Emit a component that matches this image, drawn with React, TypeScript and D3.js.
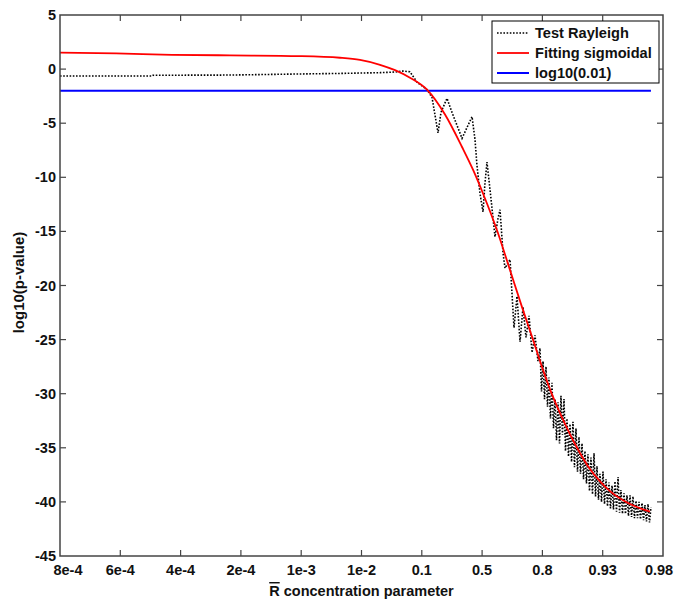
import React from "react";
import * as d3 from "d3";

const xTickLabels = ["8e-4", "6e-4", "4e-4", "2e-4", "1e-3", "1e-2", "0.1", "0.5", "0.8", "0.93", "0.98"];
const yTicks = [5, 0, -5, -10, -15, -20, -25, -30, -35, -40, -45];

// Fitting sigmoidal (x in tick-index units)
const fitX = [0, 0.929, 1.857, 2.819, 3.98, 4.643, 4.975, 5.307, 5.556, 5.804, 6.086, 6.385, 6.667, 6.849, 7.015, 7.247, 7.43, 7.662, 7.844, 8.01, 8.126, 8.342, 8.574, 8.756, 8.955, 9.121, 9.453, 9.784];
const fitY = [1.52, 1.45, 1.32, 1.27, 1.2, 1.05, 0.85, 0.4, -0.1, -0.8, -1.9, -4.2, -7.2, -9.3, -11.5, -14.9, -18.0, -22.0, -25.0, -27.8, -29.6, -32.4, -35.0, -36.7, -38.1, -39.0, -40.2, -40.9];

// Test Rayleigh
const rayX = [0, 1.526, 1.542, 2.819, 3.98, 4.643, 5.307, 5.556, 5.688, 5.804, 5.92, 6.086, 6.169, 6.269, 6.318, 6.418, 6.501, 6.667, 6.766, 6.833, 6.882, 6.915, 6.965, 7.015, 7.048, 7.081, 7.148, 7.214, 7.264, 7.297, 7.347, 7.38, 7.463, 7.529, 7.579, 7.629, 7.678, 7.728, 7.778, 7.828, 7.877, 7.927,
  7.96, 7.985, 8.01, 8.035, 8.06, 8.085, 8.109, 8.134, 8.159, 8.184, 8.209, 8.234, 8.259, 8.284, 8.308, 8.333, 8.358, 8.383, 8.408, 8.433, 8.458, 8.483, 8.507, 8.532, 8.557, 8.582, 8.607, 8.632, 8.657, 8.682, 8.706, 8.731, 8.756, 8.781, 8.806, 8.831, 8.856, 8.881, 8.905, 8.93, 8.955, 8.98, 9.005, 9.03, 9.055, 9.08, 9.104, 9.129, 9.154, 9.179, 9.204, 9.229, 9.254, 9.279, 9.303, 9.328, 9.353, 9.378, 9.403, 9.428, 9.453, 9.478, 9.502, 9.527, 9.552, 9.577, 9.602, 9.627, 9.652, 9.677, 9.701, 9.726, 9.751, 9.776, 9.801];
const rayY = [-0.64, -0.64, -0.57, -0.55, -0.45, -0.4, -0.33, -0.27, -0.18, -0.25, -1.2, -1.9, -2.6, -5.9, -4.0, -2.7, -4.0, -6.4, -5.2, -4.4, -6.5, -8.9, -11.5, -13.2, -10.5, -8.6, -12.0, -15.5, -13.8, -13.0, -17.0, -18.4, -17.6, -23.9, -21.0, -25.2, -22.0, -24.8, -22.8, -26.2, -24.6, -27.0,
  -25.8, -29.8, -27.0, -30.5, -27.5, -31.2, -28.5, -32.3, -29.0, -33.2, -30.5, -34.3, -30.8, -34.6, -30.2, -33.8, -30.5, -35.3, -32.3, -35.8, -32.8, -36.3, -32.6, -36.8, -33.2, -37.2, -34.0, -37.4, -34.6, -37.9, -35.3, -38.3, -35.6, -39.0, -35.9, -39.3, -35.5, -39.5, -36.7, -39.8, -37.4, -40.0, -37.2, -40.2, -37.9, -40.4, -38.2, -40.6, -38.5, -40.7, -38.1, -40.9, -37.7, -41.0, -38.9, -41.1, -39.2, -41.1, -39.4, -41.3, -39.4, -41.4, -39.5, -41.5, -39.9, -41.5, -40.0, -41.6, -40.1, -41.7, -40.3, -41.8, -40.2, -41.9, -40.5];

const threshold = Math.log10(0.01);
const thresholdExtent = [0, 9.8];

const legendItems = [
  { label: "Test Rayleigh", color: "#000", dash: "1.6,1.6", w: 1.6 },
  { label: "Fitting sigmoidal", color: "#ff0000", dash: "", w: 1.8 },
  { label: "log10(0.01)", color: "#0000ff", dash: "", w: 2 },
];

export default function App() {
  const W = 688, H = 600;
  const left = 60, right = 663, top = 15, bottom = 556;
  const x = d3.scaleLinear().domain([0, 10]).range([left, right]);
  const y = d3.scaleLinear().domain([-45, 5]).range([bottom, top]);
  const font = "'Liberation Sans', Arial, sans-serif";
  const axisColor = "#444";

  const fitLine = d3.line<number>().x((_, i) => x(fitX[i])).y((d) => y(d)).curve(d3.curveMonotoneX);
  const rayLine = d3.line<number>().x((_, i) => x(rayX[i])).y((d) => y(d));

  return (
    <svg width={W} height={H} style={{ position: "absolute", left: 0, top: 0, background: "#fff" }} fontFamily={font}>
      <rect x={0} y={0} width={W} height={H} fill="#fff" />
      <line x1={x(thresholdExtent[0])} x2={x(thresholdExtent[1])} y1={y(threshold)} y2={y(threshold)} stroke="#0000ff" strokeWidth={2} />
      <path d={rayLine(rayY) || ""} fill="none" stroke="#000" strokeWidth={1.6} strokeDasharray="1.6,1.6" />
      <path d={fitLine(fitY) || ""} fill="none" stroke="#ff0000" strokeWidth={1.8} />

      <rect x={left} y={top} width={right - left} height={bottom - top} fill="none" stroke={axisColor} strokeWidth={1.5} />
      {xTickLabels.map((t, i) => (
        <g key={t}>
          {i > 0 && i < 10 && (
            <>
              <line x1={x(i)} x2={x(i)} y1={bottom} y2={bottom - 6} stroke={axisColor} strokeWidth={1.2} />
              <line x1={x(i)} x2={x(i)} y1={top} y2={top + 6} stroke={axisColor} strokeWidth={1.2} />
            </>
          )}
          <text
            x={i === 0 ? x(i) + 8 : i === 10 ? x(i) - 4 : x(i)}
            y={bottom + 19}
            textAnchor="middle"
            fontSize={14.5}
            fontWeight="bold"
            fill="#111"
          >
            {t}
          </text>
        </g>
      ))}
      {yTicks.map((t) => (
        <g key={t}>
          {t !== 5 && t !== -45 && (
            <>
              <line x1={left} x2={left + 6} y1={y(t)} y2={y(t)} stroke={axisColor} strokeWidth={1.2} />
              <line x1={right} x2={right - 6} y1={y(t)} y2={y(t)} stroke={axisColor} strokeWidth={1.2} />
            </>
          )}
          <text x={left - 4} y={y(t)} dy="0.35em" textAnchor="end" fontSize={14.5} fontWeight="bold" fill="#111">
            {t}
          </text>
        </g>
      ))}

      <text x={(left + right) / 2} y={596} textAnchor="middle" fontSize={14.5} fontWeight="bold" fill="#111">
        <tspan style={{ textDecoration: "overline" }}>R</tspan>
        <tspan> concentration parameter</tspan>
      </text>
      <text transform={`translate(24,${(top + bottom) / 2 - 3}) rotate(-90)`} textAnchor="middle" fontSize={15} fontWeight="bold" fill="#111">
        log10(p-value)
      </text>

      <g transform="translate(492,21)">
        <rect x={0} y={0} width={167} height={62} fill="#fff" stroke="#000" strokeWidth={1} />
        {legendItems.map((it, i) => (
          <g key={it.label} transform={`translate(0,${12 + i * 20})`}>
            <line x1={5} x2={37} y1={0} y2={0} stroke={it.color} strokeWidth={it.w} strokeDasharray={it.dash || undefined} />
            <text x={43} y={0} dy="0.35em" fontSize={14.6} fontWeight="bold" fill="#111">
              {it.label}
            </text>
          </g>
        ))}
      </g>
    </svg>
  );
}
